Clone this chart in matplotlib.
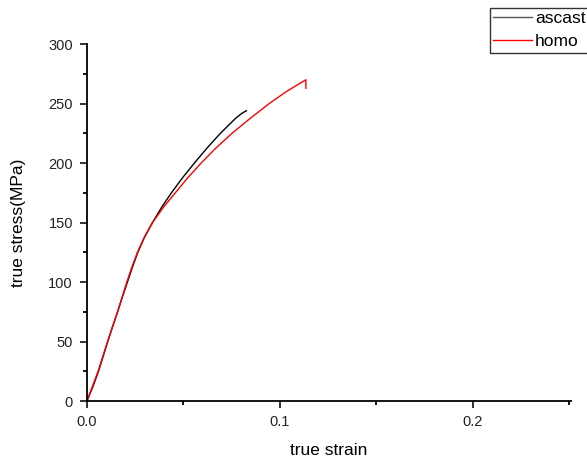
import matplotlib.pyplot as plt
from matplotlib.ticker import MultipleLocator

plt.rcParams['font.family'] = ['Liberation Sans', 'DejaVu Sans']

# ascast curve
ascast_strain = [0, 0.0032, 0.006, 0.0084, 0.0108, 0.0133, 0.0159, 0.0184, 0.021, 0.0236,
                 0.0264, 0.0298, 0.034, 0.0386, 0.0438, 0.0495, 0.0557, 0.0622, 0.0692,
                 0.0770, 0.0805, 0.0827]
ascast_stress = [0, 12.5, 25, 37.5, 50, 62.5, 75, 87.5, 100, 112.5,
                 125, 137.5, 150, 162.5, 175, 187.5, 200, 212.5, 225,
                 237.5, 242, 244]

# homo curve
homo_strain = [0, 0.0058, 0.0107, 0.0159, 0.0207, 0.0233, 0.0262, 0.0297, 0.034, 0.0395,
               0.0458, 0.0522, 0.0592, 0.0668, 0.0752, 0.0846, 0.0945, 0.1033, 0.1135, 0.1135]
homo_stress = [0, 25, 50, 75, 100, 112.5, 125, 137.5, 150, 162.5,
               175, 187.5, 200, 212.5, 225, 237.5, 250, 260, 270, 262.8]

fig = plt.figure(figsize=(5.87, 4.59), dpi=100)
ax = fig.add_axes([0.148, 0.126, 0.825, 0.778])

ax.plot(ascast_strain, ascast_stress, color='black', lw=1, label='ascast')
ax.plot(homo_strain, homo_stress, color='red', lw=1, label='homo')

ax.set_xlim(0, 0.251)
ax.set_ylim(0, 300)
ax.xaxis.set_major_locator(MultipleLocator(0.1))
ax.xaxis.set_minor_locator(MultipleLocator(0.05))
ax.yaxis.set_major_locator(MultipleLocator(50))
ax.yaxis.set_minor_locator(MultipleLocator(25))
ax.xaxis.set_major_formatter(plt.FuncFormatter(lambda v, p: '%.1f' % v))

for s in ['top', 'right']:
    ax.spines[s].set_visible(False)
for s in ['left', 'bottom']:
    ax.spines[s].set_linewidth(1.3)

ax.tick_params(which='major', direction='out', length=5, width=1.3, labelsize=10.5,
               colors='#222222', pad=5)
ax.tick_params(which='minor', direction='out', length=3, width=1.3)

ax.set_xlabel('true strain', fontsize=12.5, labelpad=10)
ax.set_ylabel('true stress(MPa)', fontsize=12.5, labelpad=16)

leg = fig.legend(loc='upper left', bbox_to_anchor=(0.8348, 0.983), fontsize=12.5,
                 frameon=True, fancybox=False, edgecolor='black', borderaxespad=0,
                 handlelength=2.2, borderpad=0.2, labelspacing=0.45, handletextpad=0.2)
leg.get_frame().set_linewidth(1)
leg.legend_handles[0].set_color('#555555')

fig.savefig('out.png', dpi=100)
